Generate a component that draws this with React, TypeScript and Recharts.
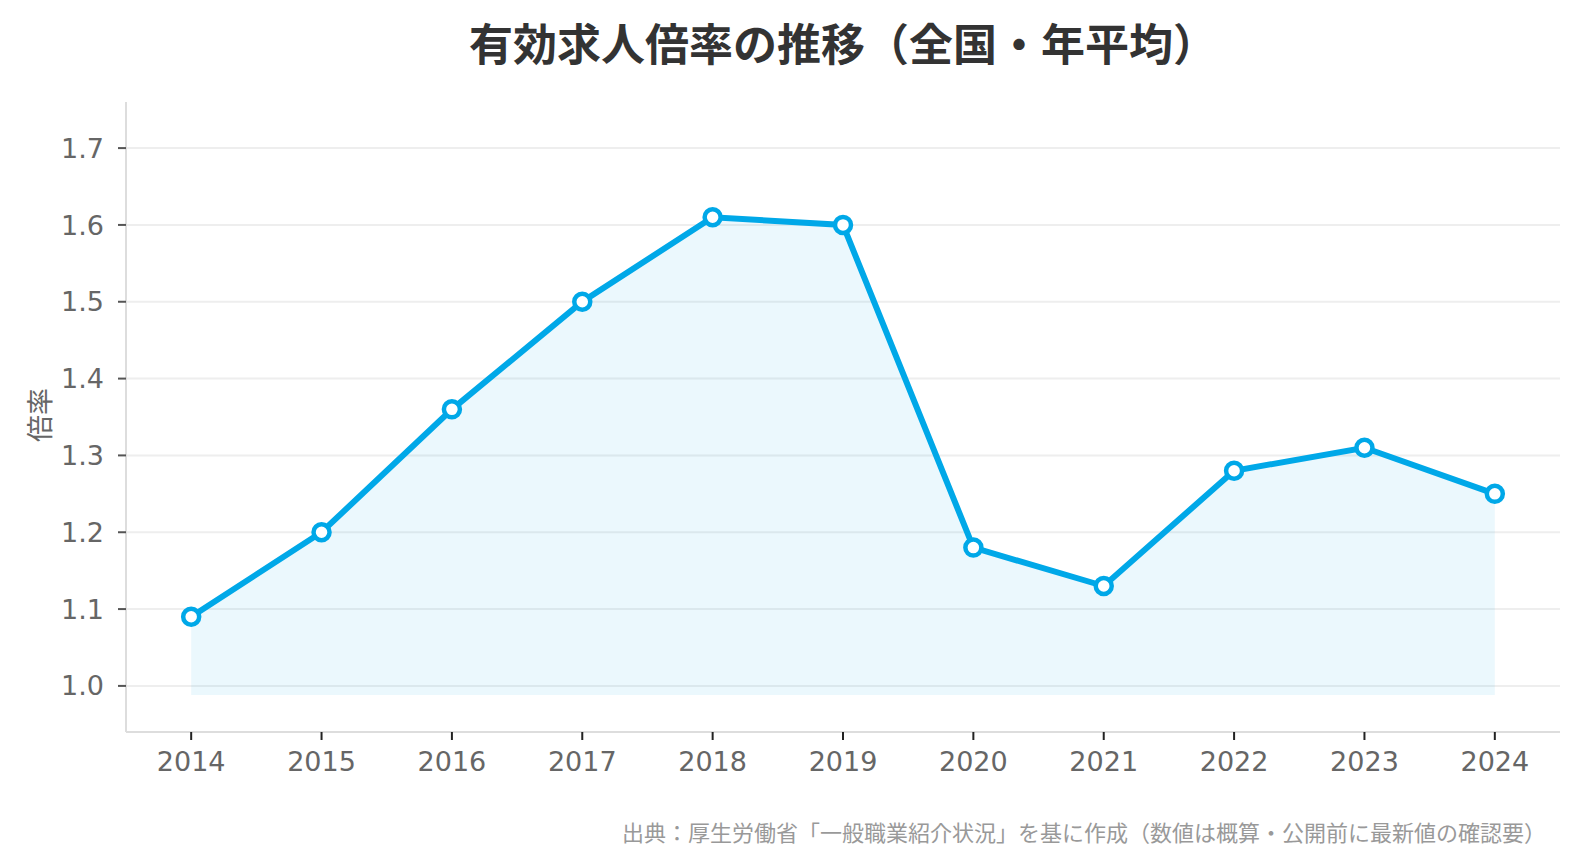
import { Area, CartesianGrid, ComposedChart, Line, XAxis, YAxis } from "recharts";

const years = [2014, 2015, 2016, 2017, 2018, 2019, 2020, 2021, 2022, 2023, 2024];
const ratios = [1.09, 1.2, 1.36, 1.5, 1.61, 1.6, 1.18, 1.13, 1.28, 1.31, 1.25];
const yTicks = [1.0, 1.1, 1.2, 1.3, 1.4, 1.5, 1.6, 1.7];

const title = "有効求人倍率の推移（全国・年平均）";
const yLabel = "倍率";
const source = "出典：厚生労働省「一般職業紹介状況」を基に作成（数値は概算・公開前に最新値の確認要）";

const data = years.map((year, i) => ({ year, ratio: ratios[i] }));

const BLUE = "#00A8E8";
const tickStyle = { fontSize: 27, fill: "#666", fontFamily: "DejaVu Sans" };

export default function App() {
  return (
    <div style={{ position: "absolute", left: 0, top: 0, width: 1580, height: 868, background: "#fff" }}>
      <ComposedChart
        width={1580}
        height={868}
        data={data}
        margin={{ top: 102, right: 20, bottom: 76, left: 0 }}
      >
        <CartesianGrid
          vertical={false}
          horizontalValues={yTicks}
          stroke="#eeeeee"
          strokeWidth={2}
        />
        <XAxis
          dataKey="year"
          type="number"
          domain={[2013.5, 2024.5]}
          ticks={years}
          interval={0}
          height={60}
          stroke="#dddddd"
          strokeWidth={2}
          tickSize={8}
          tickMargin={12}
          tickLine={{ stroke: "#222", strokeWidth: 2 }}
          tick={tickStyle}
        />
        <YAxis
          type="number"
          domain={[0.94, 1.76]}
          ticks={yTicks}
          allowDataOverflow
          width={126}
          stroke="#dddddd"
          strokeWidth={2}
          tickSize={8}
          tickMargin={14}
          tickLine={{ stroke: "#555", strokeWidth: 2 }}
          tickFormatter={(v: number) => v.toFixed(1)}
          tick={tickStyle}
        />
        <Area
          dataKey="ratio"
          type="linear"
          baseValue={0.988}
          stroke="none"
          fill={BLUE}
          fillOpacity={0.08}
          isAnimationActive={false}
        />
        <Line
          dataKey="ratio"
          type="linear"
          stroke={BLUE}
          strokeWidth={6}
          dot={{ r: 8, fill: "#fff", stroke: BLUE, strokeWidth: 4.5 }}
          activeDot={false}
          isAnimationActive={false}
        />
      </ComposedChart>
      <svg
        width={1580}
        height={868}
        style={{ position: "absolute", left: 0, top: 0, pointerEvents: "none" }}
      >
        <text
          x={843}
          y={42}
          textAnchor="middle"
          dominantBaseline="central"
          fontFamily="Noto Sans CJK JP"
          fontWeight={700}
          fontSize={44}
          fill="#333"
        >
          {title}
        </text>
        <text
          x={38}
          y={415}
          transform="rotate(-90 38 415)"
          textAnchor="middle"
          dominantBaseline="central"
          fontFamily="Noto Sans CJK JP"
          fontSize={27}
          fill="#666"
        >
          {yLabel}
        </text>
        <text
          x={1546}
          y={831}
          textAnchor="end"
          dominantBaseline="central"
          fontFamily="Noto Sans CJK JP"
          fontSize={22}
          fill="#999"
        >
          {source}
        </text>
      </svg>
    </div>
  );
}
